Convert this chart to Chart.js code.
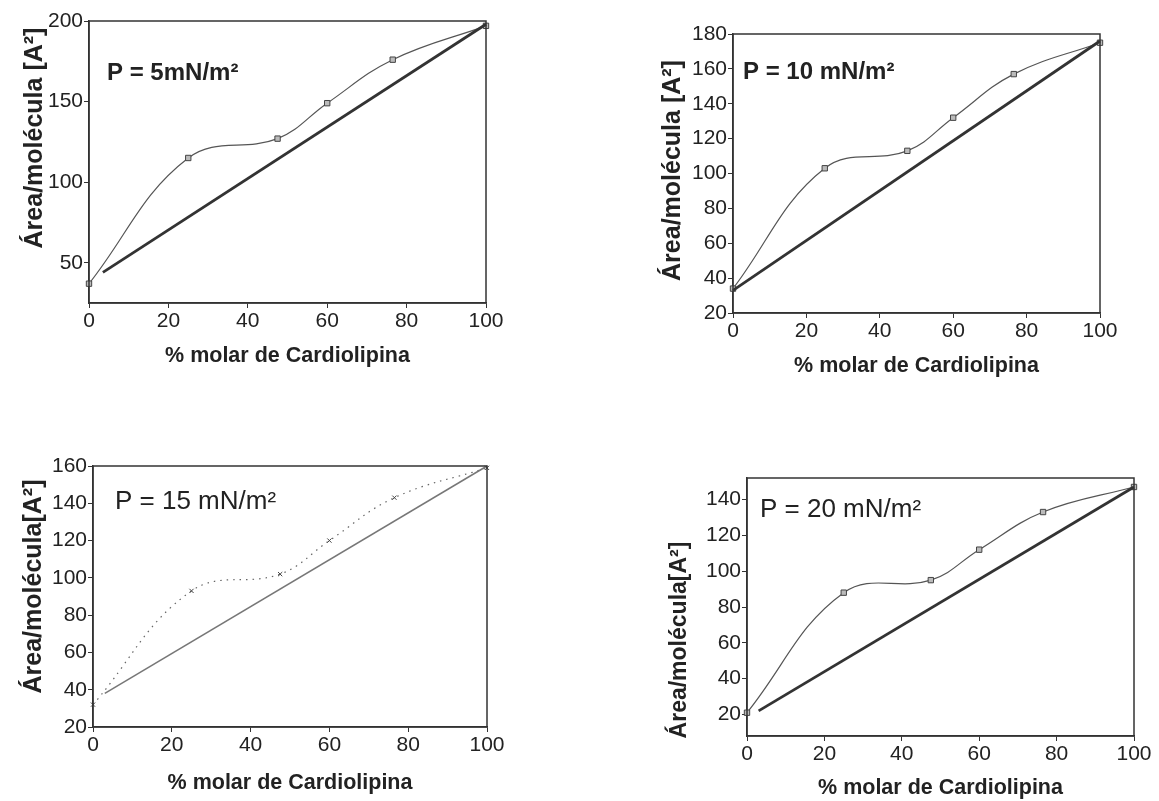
<!DOCTYPE html>
<html>
<head>
<meta charset="utf-8">
<script src="https://cdn.jsdelivr.net/npm/chart.js@4/dist/chart.umd.min.js"></script>
<style>
  body { margin: 0; background: #fff; width: 1159px; height: 801px; position: relative; overflow: hidden; }
  canvas { position: absolute; }
</style>
</head>
<body>
<canvas id="p5"></canvas>
<canvas id="p10"></canvas>
<canvas id="p15"></canvas>
<canvas id="p20"></canvas>
<script>
// % molar de cardiolipina for the measured mixtures
const molarPct = [0, 25, 47.5, 60, 76.5, 100];

// measured area per molecule at each surface pressure
const area5 = [37, 115, 127, 149, 176, 197];
const area10 = [34, 103, 113, 132, 157, 175];
const area15 = [32, 93, 102, 120, 143, 159];
const area20 = [21, 88, 95, 112, 133, 147];

// ideal mixing lines (start and end)
const idealX5 = [3.5, 100];
const ideal5 = [44, 198];
const idealX10 = [0, 100];
const ideal10 = [33, 176];
const idealX15 = [3, 100];
const ideal15 = [38, 160];
const idealX20 = [3, 100];
const ideal20 = [22, 147];

const xTicks = [0, 20, 40, 60, 80, 100];
const yTicks5 = [50, 100, 150, 200];
const yTicks10 = [20, 40, 60, 80, 100, 120, 140, 160, 180];
const yTicks15 = [20, 40, 60, 80, 100, 120, 140, 160];
const yTicks20 = [20, 40, 60, 80, 100, 120, 140];

const FONT = "'Liberation Sans', Arial, sans-serif";
const INK = '#222';

function toPoints(xs, ys) {
  let pts = [];
  for (let i = 0; i < xs.length; i++) pts.push({ x: xs[i], y: ys[i] });
  return pts;
}

// frame around the plot, the pressure label and the rotated y title
const framePlugin = {
  id: 'frame',
  afterDraw(chart, args, opts) {
    const a = chart.chartArea, ctx = chart.ctx;
    ctx.save();
    ctx.strokeStyle = '#333';
    ctx.lineWidth = 1.5;
    ctx.strokeRect(a.left, a.top, a.right - a.left, a.bottom - a.top);
    ctx.fillStyle = INK;
    ctx.font = (opts.bold ? 'bold ' : '') + opts.size + 'px ' + FONT;
    ctx.textBaseline = 'middle';
    ctx.fillText(opts.text, a.left + opts.dx, a.top + opts.dy);

    const t = opts.yTitle;
    ctx.translate(a.left + t.dx, (a.top + a.bottom) / 2 + t.dy);
    ctx.rotate(-Math.PI / 2);
    ctx.font = 'bold ' + t.size + 'px ' + FONT;
    ctx.textAlign = 'center';
    ctx.fillText(t.text, 0, 0);
    ctx.restore();
  }
};

function makeChart(id, cfg) {
  const el = document.getElementById(id);
  const left = cfg.area[0] - cfg.yW;
  const top = cfg.area[1] - cfg.padTop;
  const width = cfg.area[2] + cfg.padRight - left;
  const height = cfg.area[3] + cfg.xH - top;
  el.style.left = left + 'px';
  el.style.top = top + 'px';
  el.width = width;
  el.height = height;

  const tickFont = { family: FONT, size: 21 };

  new Chart(el, {
    type: 'line',
    data: {
      datasets: [{
        data: toPoints(cfg.idealX, cfg.ideal),
        borderColor: cfg.idealColor,
        borderWidth: cfg.idealWidth,
        pointRadius: 0,
        tension: 0,
        clip: 8
      }, {
        data: toPoints(molarPct, cfg.area_),
        borderColor: cfg.curveColor,
        borderWidth: 1.2,
        borderDash: cfg.dash,
        tension: 0.4,
        pointStyle: cfg.marker,
        pointRadius: cfg.markerSize,
        pointBackgroundColor: '#bbb',
        pointBorderColor: '#444',
        pointBorderWidth: 1,
        clip: 8
      }]
    },
    options: {
      responsive: false,
      animation: false,
      plugins: {
        legend: { display: false },
        tooltip: { enabled: false },
        frame: cfg.label
      },
      layout: { padding: { top: cfg.padTop, right: cfg.padRight, left: 0, bottom: 0 } },
      scales: {
        x: {
          type: 'linear',
          min: 0,
          max: 100,
          afterBuildTicks: (s) => { s.ticks = xTicks.map(v => ({ value: v })); },
          afterFit: (s) => { s.height = cfg.xH; },
          grid: { drawOnChartArea: false, tickLength: 5, color: '#333' },
          border: { color: '#333', width: 1.5 },
          ticks: { color: INK, font: tickFont, padding: 1, maxRotation: 0 },
          title: { display: true, text: '% molar de Cardiolipina', color: INK,
                   font: { family: FONT, size: 21.5, weight: 'bold' }, padding: 4 }
        },
        y: {
          min: cfg.yMin,
          max: cfg.yMax,
          afterBuildTicks: (s) => { s.ticks = cfg.yTicks.map(v => ({ value: v })); },
          afterFit: (s) => { s.width = cfg.yW; },
          grid: { drawOnChartArea: false, tickLength: 5, color: '#333' },
          border: { color: '#333', width: 1.5 },
          ticks: { color: INK, font: tickFont, padding: 1 }
        }
      }
    },
    plugins: [framePlugin]
  });
}

makeChart('p5', {
  area: [89, 21, 486, 303], yW: 73, xH: 70, padTop: 14, padRight: 24,
  yMin: 25, yMax: 200, yTicks: yTicks5,
  idealX: idealX5, ideal: ideal5, area_: area5,
  idealColor: '#333', idealWidth: 2.8, curveColor: '#555', dash: [],
  marker: 'rect', markerSize: 3.8,
  label: { text: 'P = 5mN/m²', bold: true, size: 24, dx: 18, dy: 52,
           yTitle: { text: 'Área/molécula [A²]', size: 25, dx: -54, dy: -24 } }
});

makeChart('p10', {
  area: [733, 34, 1100, 313], yW: 79, xH: 70, padTop: 14, padRight: 24,
  yMin: 20, yMax: 180, yTicks: yTicks10,
  idealX: idealX10, ideal: ideal10, area_: area10,
  idealColor: '#333', idealWidth: 2.8, curveColor: '#555', dash: [],
  marker: 'rect', markerSize: 3.8,
  label: { text: 'P = 10 mN/m²', bold: true, size: 24, dx: 10, dy: 38,
           yTitle: { text: 'Área/molécula [A²]', size: 25, dx: -60, dy: -3 } }
});

makeChart('p15', {
  area: [93, 466, 487, 727], yW: 78, xH: 73, padTop: 14, padRight: 24,
  yMin: 20, yMax: 160, yTicks: yTicks15,
  idealX: idealX15, ideal: ideal15, area_: area15,
  idealColor: '#777', idealWidth: 1.5, curveColor: '#666', dash: [1.5, 5],
  marker: 'crossRot', markerSize: 3,
  label: { text: 'P = 15 mN/m²', bold: false, size: 26, dx: 22, dy: 36,
           yTitle: { text: 'Área/molécula[A²]', size: 25, dx: -59, dy: -10 } }
});

makeChart('p20', {
  area: [747, 478, 1134, 736], yW: 86, xH: 69, padTop: 14, padRight: 24,
  yMin: 8, yMax: 152, yTicks: yTicks20,
  idealX: idealX20, ideal: ideal20, area_: area20,
  idealColor: '#333', idealWidth: 2.8, curveColor: '#555', dash: [],
  marker: 'rect', markerSize: 3.8,
  label: { text: 'P = 20 mN/m²', bold: false, size: 26, dx: 13, dy: 32,
           yTitle: { text: 'Área/molécula[A²]', size: 23, dx: -67, dy: 33 } }
});
</script>
</body>
</html>
